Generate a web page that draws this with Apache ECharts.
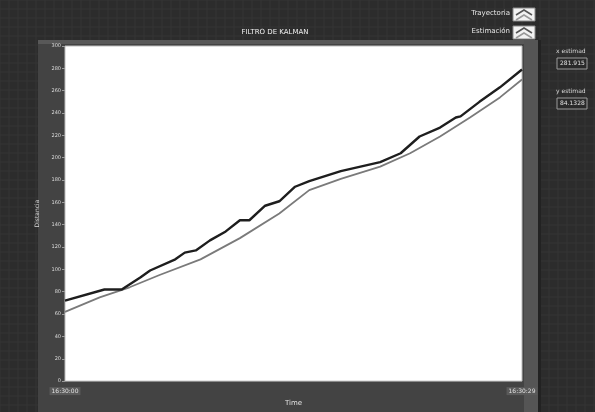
<!DOCTYPE html>
<html>
<head>
<meta charset="utf-8">
<script src="https://cdn.jsdelivr.net/npm/echarts@6/dist/echarts.min.js"></script>
<style>
html,body{margin:0;padding:0;background:#2c2c2c;}
#chart{width:595px;height:412px;}
</style>
</head>
<body>
<div id="chart"></div>
<script>
// Sample times (s) and measured trajectory
const trayT = [0, 2.5, 3.6, 4.8, 5.4, 7.0, 7.6, 8.3, 9.2, 10.2, 11.1, 11.7, 12.7, 13.6, 14.6, 15.5, 17.5, 20.0, 21.3, 22.5, 23.8, 24.8, 25.1, 26.3, 27.6, 29.0];
const trayV = [72, 82, 82, 93, 99, 109, 115, 117, 126, 134, 144, 144, 157, 161, 174, 179, 188, 196, 204, 219, 227, 236, 237, 250, 263, 279];
// Kalman estimate
const estT = [0, 2.2, 4.1, 6.0, 8.6, 11.1, 13.6, 15.5, 17.5, 20.0, 21.9, 23.8, 25.7, 27.6, 29.0];
const estV = [62, 75, 84, 95, 109, 128, 150, 171, 181, 192, 204, 219, 236, 254, 270];
// Axis labels
const yTicks = [0, 20, 40, 60, 80, 100, 120, 140, 160, 180, 200, 220, 240, 260, 280, 300];
const xEdgeLabels = ['16:30:00', '16:30:29'];
const readouts = [['x estimad', '281.915'], ['y estimad', '84.1328']];

const pair = (t, v) => t.map((x, i) => [x, v[i]]);

// Faint screen grid behind the panel
const gridLines = [];
for (let x = 0; x < 595; x += 9) gridLines.push({type:'line', shape:{x1:x,y1:0,x2:x,y2:412}, style:{stroke:'#353535', lineWidth:1}, z:-10});
for (let y = 0; y < 412; y += 9) gridLines.push({type:'line', shape:{x1:0,y1:y,x2:595,y2:y}, style:{stroke:'#353535', lineWidth:1}, z:-10});

const readoutGfx = [];
readouts.forEach((r, i) => {
  const y0 = 48 + i * 40;
  readoutGfx.push({type:'text', left:556, top:y0, style:{text:r[0], fill:'#d8d8d8', font:'6px "DejaVu Sans"'}, z:5});
  readoutGfx.push({type:'rect', shape:{x:557, y:y0+10, width:30, height:11}, style:{fill:'#2a2a2a', stroke:'#9a9a9a', lineWidth:1}, z:5});
  readoutGfx.push({type:'text', left:560, top:y0+12, style:{text:r[1], fill:'#e0e0e0', font:'6px "DejaVu Sans"'}, z:6});
});

const legendGfx = [];
[['Trayectoria', 10], ['Estimación', 28]].forEach(([name, y]) => {
  legendGfx.push({type:'text', right:85, top:y, style:{text:name, fill:'#e6e6e6', font:'7px "DejaVu Sans"', align:'right'}, z:5});
  legendGfx.push({type:'rect', shape:{x:513, y:y-2, width:22, height:13}, style:{fill:'#f2f2f2', stroke:'#888', lineWidth:1}, z:5});
  legendGfx.push({type:'polyline', shape:{points:[[516,y+5],[524,y],[532,y+5]]}, style:{stroke:'#555', lineWidth:1.5, fill:null}, z:6});
  legendGfx.push({type:'polyline', shape:{points:[[516,y+10],[524,y+5],[532,y+10]]}, style:{stroke:'#999', lineWidth:1.5, fill:null}, z:6});
});

const chart = echarts.init(document.getElementById('chart'));
chart.setOption({
  backgroundColor: '#2c2c2c',
  animation: false,
  title: {
    text: 'FILTRO DE KALMAN', left: 270, top: 24, textAlign: 'center',
    textStyle: {color: '#f0f0f0', fontSize: 7, fontWeight: 'normal', fontFamily: 'DejaVu Sans'}
  },
  grid: {left: 65, right: 73, top: 46, bottom: 27, backgroundColor: '#ffffff', show: true, borderColor: '#bdbdbd', borderWidth: 1},
  xAxis: {
    type: 'value', min: 0, max: 29, interval: 29,
    name: 'Time', nameLocation: 'middle', nameGap: 17,
    nameTextStyle: {color: '#e0e0e0', fontSize: 7, fontFamily: 'DejaVu Sans'},
    axisLine: {show: false}, axisTick: {show: false}, splitLine: {show: false},
    axisLabel: {
      color: '#e0e0e0', fontSize: 6, fontFamily: 'DejaVu Sans', margin: 6,
      formatter: v => v === 0 ? xEdgeLabels[0] : xEdgeLabels[1],
      padding: [1, 2], backgroundColor: '#5a5a5a'
    }
  },
  yAxis: {
    type: 'value', min: yTicks[0], max: yTicks[yTicks.length - 1], interval: yTicks[1] - yTicks[0],
    name: 'Distancia', nameLocation: 'middle', nameGap: 20,
    nameTextStyle: {color: '#d8d8d8', fontSize: 6, fontFamily: 'DejaVu Sans'},
    axisLine: {show: false},
    axisTick: {show: true, length: 3, inside: false, lineStyle: {color: '#9a9a9a'}},
    splitLine: {show: false},
    axisLabel: {color: '#dcdcdc', fontSize: 5, fontFamily: 'DejaVu Sans', margin: 4}
  },
  graphic: [
    ...gridLines,
    // Chart panel
    {type:'rect', shape:{x:38, y:40, width:500, height:372}, style:{fill:'#434343'}, z:-5},
    {type:'rect', shape:{x:38, y:40, width:500, height:4}, style:{fill:'#585858'}, z:-4},
    {type:'rect', shape:{x:524, y:40, width:14, height:372}, style:{fill:'#555555'}, z:-4},
    {type:'rect', shape:{x:538, y:40, width:3, height:372}, style:{fill:'#222'}, z:-4},
    ...legendGfx,
    ...readoutGfx
  ],
  series: [
    {
      name: 'Estimación', type: 'line', data: pair(estT, estV), showSymbol: false,
      lineStyle: {color: '#7a7a7a', width: 1.8}, z: 2
    },
    {
      name: 'Trayectoria', type: 'line', data: pair(trayT, trayV), showSymbol: false,
      lineStyle: {color: '#1e1e1e', width: 2.4}, z: 3
    }
  ]
});
</script>
</body>
</html>
